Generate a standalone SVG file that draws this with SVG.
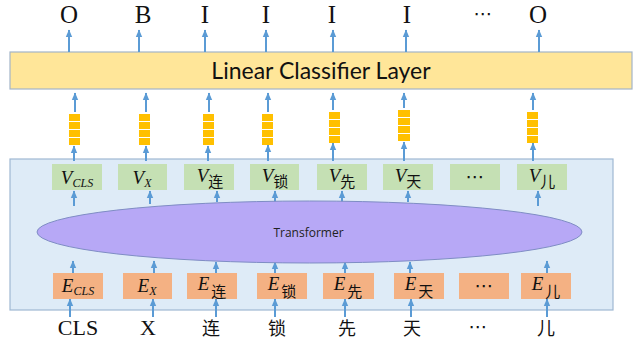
<svg xmlns="http://www.w3.org/2000/svg" width="635" height="341" viewBox="0 0 635 341">
  <defs>
    <marker id="ah" markerUnits="userSpaceOnUse" markerWidth="8" markerHeight="8" viewBox="0 0 8 8" refX="7" refY="4" orient="auto">
      <path d="M0,0.8 L7.5,4 L0,7.2 Z" fill="#5B9BD5"/>
    </marker>
    <style>
      .arr line { stroke: #5B9BD5; stroke-width: 2; fill: none; marker-end: url(#ah); }
      .lbl { font-family: "Liberation Serif", serif; font-size: 25px; fill: #111; text-anchor: middle; }
      .tok { font-family: "Liberation Serif", serif; font-size: 22px; fill: #111; text-anchor: middle; }
      .cjk { font-family: "Noto Sans CJK SC", sans-serif; font-size: 18px; fill: #111; text-anchor: middle; }
      .dots { font-family: "DejaVu Sans", sans-serif; font-size: 19px; fill: #111; text-anchor: middle; }
      .vbox { fill: #C5E0B4; }
      .ebox { fill: #F4B183; }
      .math { font-family: "Liberation Serif", serif; font-style: italic; font-size: 19px; fill: #111; text-anchor: middle; }
      .sub { font-family: "Liberation Serif", serif; font-style: italic; font-size: 12px; }
      .subc { font-family: "Noto Sans CJK SC", sans-serif; font-style: normal; font-size: 15px; }
      .cell { fill: #FFC000; }
    </style>
  </defs>

  <!-- output tags -->
  <g id="outputs">
    <text class="lbl" x="69" y="23">O</text>
    <text class="lbl" x="143" y="23">B</text>
    <text class="lbl" x="205" y="23">I</text>
    <text class="lbl" x="266" y="23">I</text>
    <text class="lbl" x="332" y="23">I</text>
    <text class="lbl" x="407" y="23">I</text>
    <text class="dots" x="483" y="20">⋯</text>
    <text class="lbl" x="538" y="23">O</text>
  </g>

  <!-- classifier layer -->
  <g id="classifier">
    <rect x="10" y="52" width="622" height="37" fill="#FFE699" stroke="#A3B5C8" stroke-width="1.2"/>
    <text x="321" y="79" font-family="Lato, 'Open Sans', sans-serif" font-size="23" fill="#111" text-anchor="middle">Linear Classifier Layer</text>
  </g>

  <!-- encoder container -->
  <g id="encoder">
    <rect x="10" y="159" width="603" height="151" fill="#DEEBF7" stroke="#9FB8D2" stroke-width="1.2"/>
  </g>

  <!-- connectors -->
  <g id="connectors" class="arr">
    <!-- classifier to tags -->
    <line x1="69" y1="52" x2="69" y2="30"/>
    <line x1="139" y1="52" x2="139" y2="30"/>
    <line x1="205" y1="52" x2="205" y2="30"/>
    <line x1="266" y1="52" x2="266" y2="30"/>
    <line x1="333" y1="52" x2="333" y2="30"/>
    <line x1="406" y1="52" x2="406" y2="30"/>
    <line x1="539" y1="52" x2="539" y2="30"/>
    <!-- vectors to classifier -->
    <line x1="75" y1="112" x2="75" y2="93"/>
    <line x1="146" y1="112" x2="146" y2="93"/>
    <line x1="209" y1="112" x2="209" y2="93"/>
    <line x1="268" y1="112" x2="268" y2="93"/>
    <line x1="333" y1="110" x2="333" y2="93"/>
    <line x1="404" y1="108" x2="404" y2="93"/>
    <line x1="533" y1="110" x2="533" y2="93"/>
    <!-- encoder to vectors -->
    <line x1="74" y1="161" x2="74" y2="146"/>
    <line x1="146" y1="161" x2="146" y2="146"/>
    <line x1="208" y1="161" x2="208" y2="146"/>
    <line x1="268" y1="161" x2="268" y2="145"/>
    <line x1="333" y1="161" x2="333" y2="143"/>
    <line x1="404" y1="161" x2="404" y2="142"/>
    <line x1="533" y1="161" x2="533" y2="143"/>
    <!-- transformer to V -->
    <line x1="74" y1="206" x2="74" y2="191"/>
    <line x1="150" y1="204" x2="150" y2="191"/>
    <line x1="217" y1="202" x2="217" y2="191"/>
    <line x1="275" y1="202" x2="275" y2="191"/>
    <line x1="342" y1="202" x2="342" y2="191"/>
    <line x1="408" y1="202" x2="408" y2="191"/>
    <line x1="538" y1="206" x2="538" y2="191"/>
    <!-- E to transformer -->
    <line x1="73" y1="273" x2="73" y2="261"/>
    <line x1="154" y1="273" x2="154" y2="261"/>
    <line x1="216" y1="273" x2="216" y2="262"/>
    <line x1="275" y1="273" x2="275" y2="262"/>
    <line x1="345" y1="273" x2="345" y2="262"/>
    <line x1="410" y1="273" x2="410" y2="262"/>
    <line x1="547" y1="273" x2="547" y2="261"/>
    <!-- tokens to E -->
    <line x1="70" y1="317" x2="70" y2="299"/>
    <line x1="153" y1="317" x2="153" y2="299"/>
    <line x1="216" y1="317" x2="216" y2="299"/>
    <line x1="275" y1="317" x2="275" y2="299"/>
    <line x1="345" y1="317" x2="345" y2="299"/>
    <line x1="411" y1="317" x2="411" y2="299"/>
    <line x1="547" y1="317" x2="547" y2="299"/>
  </g>

  <!-- output vector stacks -->
  <g id="stacks">
    <g id="stack-1"><rect class="cell" x="69" y="114" width="11" height="7"/><rect class="cell" x="69" y="122" width="11" height="7"/><rect class="cell" x="69" y="130" width="11" height="7"/><rect class="cell" x="69" y="138" width="11" height="7"/></g>
    <g id="stack-2"><rect class="cell" x="139" y="114" width="11" height="7"/><rect class="cell" x="139" y="122" width="11" height="7"/><rect class="cell" x="139" y="130" width="11" height="7"/><rect class="cell" x="139" y="138" width="11" height="7"/></g>
    <g id="stack-3"><rect class="cell" x="203" y="114" width="11" height="7"/><rect class="cell" x="203" y="122" width="11" height="7"/><rect class="cell" x="203" y="130" width="11" height="7"/><rect class="cell" x="203" y="138" width="11" height="7"/></g>
    <g id="stack-4"><rect class="cell" x="262" y="114" width="11" height="7"/><rect class="cell" x="262" y="122" width="11" height="7"/><rect class="cell" x="262" y="130" width="11" height="7"/><rect class="cell" x="262" y="138" width="11" height="7"/></g>
    <g id="stack-5"><rect class="cell" x="329" y="112" width="11" height="7"/><rect class="cell" x="329" y="120" width="11" height="7"/><rect class="cell" x="329" y="128" width="11" height="7"/><rect class="cell" x="329" y="136" width="11" height="7"/></g>
    <g id="stack-6"><rect class="cell" x="398" y="110" width="12" height="7"/><rect class="cell" x="398" y="118" width="12" height="7"/><rect class="cell" x="398" y="126" width="12" height="7"/><rect class="cell" x="398" y="134" width="12" height="7"/></g>
    <g id="stack-7"><rect class="cell" x="527" y="112" width="11" height="7"/><rect class="cell" x="527" y="120" width="11" height="7"/><rect class="cell" x="527" y="128" width="11" height="7"/><rect class="cell" x="527" y="136" width="11" height="7"/></g>
  </g>

  <!-- contextual vectors V -->
  <g id="v-cls"><rect class="vbox" x="52" y="164" width="50" height="26"/><text class="math" x="77" y="184">V<tspan class="sub" dy="3">CLS</tspan></text></g>
  <g id="v-x"><rect class="vbox" x="118" y="164" width="49" height="26"/><text class="math" x="142" y="184">V<tspan class="sub" dy="3">X</tspan></text></g>
  <g id="v-lian"><rect class="vbox" x="184" y="164" width="50" height="26"/><text class="math" x="210" y="182">V<tspan class="subc" dy="5">连</tspan></text></g>
  <g id="v-suo"><rect class="vbox" x="250" y="164" width="49" height="26"/><text class="math" x="275" y="182">V<tspan class="subc" dy="5">锁</tspan></text></g>
  <g id="v-xian"><rect class="vbox" x="317" y="164" width="50" height="26"/><text class="math" x="342" y="182">V<tspan class="subc" dy="5">先</tspan></text></g>
  <g id="v-tian"><rect class="vbox" x="383" y="164" width="50" height="26"/><text class="math" x="408" y="182">V<tspan class="subc" dy="5">天</tspan></text></g>
  <g id="v-dots"><rect class="vbox" x="450" y="164" width="50" height="26"/><text class="dots" x="475" y="183">⋯</text></g>
  <g id="v-er"><rect class="vbox" x="517" y="164" width="50" height="26"/><text class="math" x="542" y="182">V<tspan class="subc" dy="5">儿</tspan></text></g>

  <!-- transformer -->
  <g id="transformer">
    <ellipse cx="309.5" cy="232" rx="272.5" ry="31" fill="#B7A8F6" stroke="#7F8DC4" stroke-width="1"/>
    <text x="308.5" y="237" font-family="'Open Sans', sans-serif" font-size="12" fill="#222" text-anchor="middle">Transformer</text>
  </g>

  <!-- input embeddings E -->
  <g id="e-cls"><rect class="ebox" x="53" y="273" width="50" height="26"/><text class="math" x="78" y="292">E<tspan class="sub" dy="3">CLS</tspan></text></g>
  <g id="e-x"><rect class="ebox" x="123" y="273" width="49" height="26"/><text class="math" x="147" y="292">E<tspan class="sub" dy="3">X</tspan></text></g>
  <g id="e-lian"><rect class="ebox" x="187" y="273" width="50" height="26"/><text class="math" x="212" y="290">E<tspan class="subc" dy="7" dx="2">连</tspan></text></g>
  <g id="e-suo"><rect class="ebox" x="257" y="273" width="50" height="26"/><text class="math" x="282" y="290">E<tspan class="subc" dy="7" dx="2">锁</tspan></text></g>
  <g id="e-xian"><rect class="ebox" x="323" y="273" width="51" height="26"/><text class="math" x="348" y="290">E<tspan class="subc" dy="7" dx="2">先</tspan></text></g>
  <g id="e-tian"><rect class="ebox" x="394" y="273" width="50" height="26"/><text class="math" x="419" y="290">E<tspan class="subc" dy="7" dx="2">天</tspan></text></g>
  <g id="e-dots"><rect class="ebox" x="459" y="273" width="50" height="26"/><text class="dots" x="484" y="292">⋯</text></g>
  <g id="e-er"><rect class="ebox" x="521" y="273" width="50" height="26"/><text class="math" x="546" y="290">E<tspan class="subc" dy="7" dx="2">儿</tspan></text></g>

  <!-- input tokens -->
  <g id="inputs">
    <text class="tok" x="78" y="335">CLS</text>
    <text class="tok" x="148" y="335">X</text>
    <text class="cjk" x="211" y="335">连</text>
    <text class="cjk" x="277" y="335">锁</text>
    <text class="cjk" x="347" y="335">先</text>
    <text class="cjk" x="412" y="335">天</text>
    <text class="dots" x="478" y="333">⋯</text>
    <text class="cjk" x="546" y="335">儿</text>
  </g>
</svg>
